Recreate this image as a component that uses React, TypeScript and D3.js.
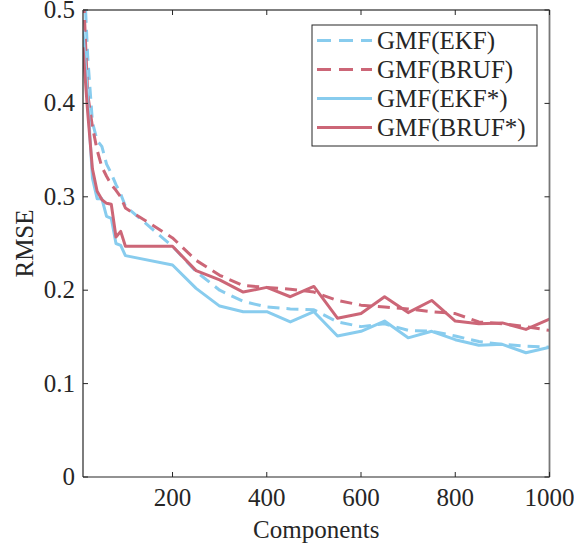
import React from "react";
import * as d3 from "d3";

const components = [10, 20, 30, 40, 50, 60, 70, 80, 90, 100, 200, 250, 300, 350, 400, 450, 500, 550, 600, 650, 700, 750, 800, 850, 900, 950, 1000];

const ekf = [0.56, 0.45, 0.38, 0.36, 0.354, 0.335, 0.325, 0.313, 0.303, 0.29, 0.247, 0.22, 0.2, 0.188, 0.182, 0.18, 0.179, 0.166, 0.161, 0.164, 0.157, 0.156, 0.151, 0.145, 0.142, 0.14, 0.139];
const bruf = [0.53, 0.41, 0.375, 0.35, 0.332, 0.322, 0.313, 0.307, 0.3, 0.288, 0.256, 0.232, 0.216, 0.205, 0.203, 0.201, 0.198, 0.189, 0.184, 0.182, 0.18, 0.177, 0.175, 0.166, 0.164, 0.161, 0.157];
const ekfStar = [0.478, 0.405, 0.32, 0.298, 0.298, 0.279, 0.277, 0.25, 0.248, 0.237, 0.227, 0.202, 0.183, 0.177, 0.177, 0.166, 0.177, 0.151, 0.156, 0.167, 0.149, 0.156, 0.147, 0.141, 0.142, 0.133, 0.139];
const brufStar = [0.46, 0.39, 0.33, 0.306, 0.297, 0.293, 0.292, 0.257, 0.263, 0.247, 0.247, 0.221, 0.211, 0.198, 0.203, 0.193, 0.204, 0.17, 0.175, 0.193, 0.176, 0.189, 0.167, 0.164, 0.165, 0.158, 0.169];

const seriesNames = ["GMF(EKF)", "GMF(BRUF)", "GMF(EKF*)", "GMF(BRUF*)"];
const xTicks = [200, 400, 600, 800, 1000];
const yTicks = [0, 0.1, 0.2, 0.3, 0.4, 0.5];

const BLUE = "#88CCEE";
const RED = "#CC6677";

export default function App() {
  const W = 574, H = 546;
  const left = 83, right = 549.5, top = 10, bottom = 477;
  const x = d3.scaleLinear().domain([10, 1000]).range([left, right]);
  const y = d3.scaleLinear().domain([0, 0.5]).range([bottom, top]);
  const textStyle: React.CSSProperties = { fontFamily: '"Liberation Serif", "DejaVu Serif", serif', fontSize: "25px" };

  const series = [
    { name: seriesNames[0], values: ekf, color: BLUE, dash: "12,7" },
    { name: seriesNames[1], values: bruf, color: RED, dash: "12,7" },
    { name: seriesNames[2], values: ekfStar, color: BLUE, dash: null },
    { name: seriesNames[3], values: brufStar, color: RED, dash: null },
  ];

  const line = d3
    .line<[number, number]>()
    .x((d) => x(d[0]))
    .y((d) => y(d[1]));

  const axisColor = "#262626";
  const tickLen = 5;
  const legX = 312, legY = 25, legW = 225, legH = 121;

  return (
    <svg width={W} height={H} style={{ position: "absolute", left: 0, top: 0, background: "#fff" }}>
      <defs>
        <clipPath id="plotclip">
          <rect x={left} y={top} width={right - left} height={bottom - top} />
        </clipPath>
      </defs>
      <rect x={0} y={0} width={W} height={H} fill="#fff" />
      <g clipPath="url(#plotclip)">
        {series.map((s, i) => (
          <path
            key={i}
            d={line(components.map((c, j) => [c, s.values[j]] as [number, number])) || ""}
            fill="none"
            stroke={s.color}
            strokeWidth={3}
            strokeDasharray={s.dash || undefined}
            strokeLinejoin="round"
          />
        ))}
      </g>
      <line x1={left} y1={bottom} x2={right} y2={bottom} stroke={axisColor} strokeWidth={1.2} />
      <line x1={left} y1={top} x2={left} y2={bottom} stroke={axisColor} strokeWidth={1.2} />
      <line x1={left} y1={top} x2={right} y2={top} stroke="#555" strokeWidth={1.4} />
      <line x1={right} y1={top} x2={right} y2={bottom} stroke="#777" strokeWidth={1.8} />
      {xTicks.map((t) => (
        <g key={"xt" + t}>
          <line x1={x(t)} x2={x(t)} y1={bottom} y2={bottom - tickLen} stroke={axisColor} strokeWidth={1} />
          <line x1={x(t)} x2={x(t)} y1={top} y2={top + tickLen} stroke={axisColor} strokeWidth={1} />
          <text x={x(t)} y={506} textAnchor="middle" style={textStyle} fill="#262626">
            {t}
          </text>
        </g>
      ))}
      {yTicks.map((t) => (
        <g key={"yt" + t}>
          <line x1={left} x2={left + tickLen} y1={y(t)} y2={y(t)} stroke={axisColor} strokeWidth={1} />
          <line x1={right} x2={right - tickLen} y1={y(t)} y2={y(t)} stroke={axisColor} strokeWidth={1} />
          <text x={left - 8} y={y(t) + 8} textAnchor="end" style={textStyle} fill="#262626">
            {t === 0 ? "0" : t.toFixed(1)}
          </text>
        </g>
      ))}
      <text x={(left + right) / 2} y={538} textAnchor="middle" style={textStyle} fill="#262626">
        Components
      </text>
      <text
        transform={`translate(33, ${(top + bottom) / 2}) rotate(-90)`}
        textAnchor="middle"
        style={textStyle}
        fill="#262626"
      >
        RMSE
      </text>
      <rect x={legX} y={legY} width={legW} height={legH} fill="#fff" stroke={axisColor} strokeWidth={1} />
      {series.map((s, i) => {
        const cy = 40.5 + i * 29;
        return (
          <g key={"lg" + i}>
            <line
              x1={317}
              x2={372}
              y1={cy}
              y2={cy}
              stroke={s.color}
              strokeWidth={3}
              strokeDasharray={s.dash ? "14,8" : undefined}
            />
            <text x={377} y={cy + 8} style={textStyle} fill="#262626">
              {s.name}
            </text>
          </g>
        );
      })}
    </svg>
  );
}
